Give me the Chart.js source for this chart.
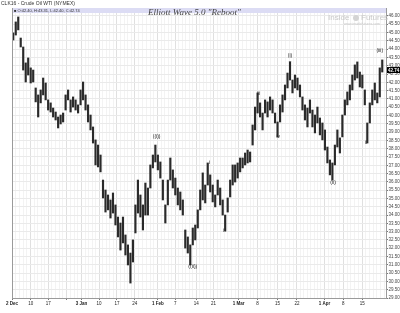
<!DOCTYPE html>
<html><head><meta charset="utf-8">
<script src="https://cdn.jsdelivr.net/npm/chart.js@4.4.0/dist/chart.umd.min.js"></script>
<style>html,body{margin:0;padding:0;background:#fff;}#wrap{width:400px;height:313px;position:relative;}</style>
</head><body><div id="wrap"><canvas id="c" width="400" height="313"></canvas></div>
<script>
// Price bars (one bar per slot)
const barHighs = [44.98,45.64,45.94,44.67,44.13,43.17,43.47,42.87,42.74,41.66,
  41.24,41.54,42.26,41.96,40.94,40.76,40.45,40.21,39.91,40.03,
  40.15,41.24,41.54,40.94,41.12,40.94,40.64,41.54,42.02,41.24,
  40.64,40.03,39.31,38.53,38.22,37.62,36.11,35.51,35.21,34.91,
  35.33,34.61,33.88,33.52,33.88,32.80,32.20,31.71,32.50,34.61,
  36.11,35.21,34.61,35.93,35.63,37.02,37.62,38.22,37.62,37.20,
  36.11,34.61,36.11,37.44,36.72,36.23,35.63,35.39,34.91,33.10,
  32.68,32.20,33.22,33.40,34.31,35.51,36.54,35.81,37.14,36.42,
  35.81,35.21,36.11,35.63,34.91,34.00,35.03,36.11,37.02,37.02,
  37.14,37.44,37.44,37.74,37.92,37.80,39.43,40.51,41.36,40.76,
  40.15,40.94,40.82,41.12,40.94,40.15,39.61,40.64,41.24,41.84,
  42.56,43.23,42.14,42.44,42.26,41.84,41.12,40.64,40.45,40.94,
  40.33,40.03,40.51,39.85,39.55,39.13,38.10,37.32,37.14,38.22,
  39.13,38.65,40.03,40.94,41.42,41.84,42.44,43.05,43.23,42.62,
  42.44,41.54,39.55,40.76,41.54,41.96,41.36,42.87,43.35];
const barLows = [44.55,44.85,45.16,44.13,42.74,42.02,42.44,41.96,42.02,40.82,
  39.91,40.76,41.24,40.94,40.33,40.21,39.91,39.73,39.25,39.49,
  39.61,40.33,40.94,40.21,40.51,40.33,40.15,40.64,40.94,40.33,
  39.61,39.13,38.34,37.02,36.90,36.60,35.03,34.18,34.31,33.82,
  34.12,33.40,32.68,31.89,32.32,31.59,30.99,29.90,31.17,32.92,
  34.12,33.88,33.10,34.00,34.00,35.63,36.84,37.20,36.72,36.23,
  34.91,33.52,34.61,36.11,35.63,35.21,34.61,34.31,34.00,32.01,
  31.71,30.99,32.20,32.50,33.22,34.31,34.91,34.73,35.81,35.39,
  34.79,34.49,35.21,34.61,34.00,33.04,34.18,35.09,35.81,35.99,
  36.23,36.60,36.84,37.02,37.14,37.20,38.22,39.13,40.15,39.91,
  39.13,40.15,39.91,40.33,40.15,39.55,38.71,39.61,40.21,40.94,
  41.66,42.14,41.36,41.66,41.54,41.12,40.33,39.73,39.31,40.15,
  39.31,38.95,39.55,38.83,38.53,37.92,37.14,36.42,36.11,37.02,
  38.10,37.74,38.71,40.03,40.64,40.94,41.54,42.14,42.26,41.72,
  41.66,40.64,38.34,39.55,40.64,40.94,40.76,41.12,42.62];
const lastClose = 42.74;

// Date tick labels and the bar slot they sit at
const dateTickSlots = [-0.5, 7, 14, 21.4, 27.4, 34.4, 41.6, 48.7, 58, 65, 73.4, 80.3, 90.4, 98, 106, 113.8, 124.8, 132.4, 140];
const dateTickLabels = ["2 Dec","10","17","","3 Jan","10","17","24","1 Feb","7","14","21","1 Mar","8","15","22","1 Apr","8","15"];
const monthLabels = ["2 Dec","3 Jan","1 Feb","1 Mar","1 Apr"];

// Price tick labels
const priceTicks = [29.00,29.50,30.00,30.50,31.00,31.50,32.00,32.50,33.00,33.50,34.00,34.50,35.00,35.50,36.00,36.50,37.00,37.50,38.00,38.50,39.00,39.50,40.00,40.50,41.00,41.50,42.00,42.50,43.00,43.50,44.00,44.50,45.00,45.50,46.00];

// Elliott wave annotations: slot, price, text
const waveSlots = [57.5, 72, 78.7, 84.7, 98.3, 106.3, 111, 111, 128.3, 141.5, 147];
const wavePrices = [38.72, 30.87, 37.16, 33.04, 41.32, 38.70, 43.62, 43.20, 35.93, 38.34, 43.90];
const waveTexts = ["((i))", "((ii))", "i", "ii", "iii", "iv", "(i)", "v", "(ii)", "ii", "(iii)"];

// minor (daily) grid positions between weekly ticks
const minorSlots = [];
for (let k = 0; k < dateTickSlots.length - 1; k++) {
  const a = dateTickSlots[k], b = dateTickSlots[k+1];
  const n = Math.max(1, Math.round((b - a) / 1.45));
  for (let j = 1; j < n; j++) minorSlots.push(a + (b - a) * j / n);
}
{ const a = dateTickSlots[dateTickSlots.length-1]; for (let s = a + 1.45; s < 149.5; s += 1.45) minorSlots.push(s); }
const majorSet = new Set(dateTickSlots);
const allXTicks = dateTickSlots.concat(minorSlots).sort((a,b)=>a-b);

const bars = barHighs.map((h, i) => ({ x: i, y: [barLows[i], h] }));

const overlay = {
  id: 'overlay',
  beforeDatasetsDraw(chart) {
    const { ctx, chartArea: ca } = chart;
    ctx.save();
    ctx.fillStyle = '#dcdcf4';
    ctx.fillRect(ca.left, ca.top, ca.right - ca.left, 5);
    ctx.fillStyle = '#c8c8c8';
    ctx.font = '8px "Liberation Sans", Arial, sans-serif';
    ctx.textBaseline = 'middle';
    ctx.fillText('Inside', 328, 18);
    ctx.fillStyle = '#d4d4d4';
    ctx.beginPath(); ctx.arc(356, 18, 3, 0, Math.PI * 2); ctx.fill();
    ctx.fillStyle = '#c8c8c8';
    ctx.fillText('Futures', 361, 18);
    ctx.font = '3.5px "Liberation Sans", Arial, sans-serif';
    ctx.fillText('www.insidefutures.com', 344, 24);
    ctx.restore();
  },
  afterDraw(chart) {
    const { ctx, chartArea: ca, scales } = chart;
    ctx.save();
    ctx.strokeStyle = '#9a9a9a'; ctx.lineWidth = 1;
    ctx.beginPath(); ctx.moveTo(ca.left + 0.5, ca.top); ctx.lineTo(ca.left + 0.5, ca.bottom); ctx.stroke();
    ctx.fillStyle = '#333';
    ctx.font = '5px "Liberation Sans", Arial, sans-serif';
    ctx.textBaseline = 'middle';
    ctx.fillText('CLK16 - Crude Oil WTI (NYMEX)', 1, 3.5);
    ctx.font = '4px "Liberation Sans", Arial, sans-serif';
    ctx.fillText('\u25A0 O:42.40, H:43.31, L:42.40, C:42.74', ca.left + 2, ca.top + 2.6);
    ctx.font = 'italic 9px "Liberation Serif", "DejaVu Serif", serif';
    ctx.fillStyle = '#444';
    ctx.textAlign = 'left';
    ctx.fillText('Elliott Wave 5.0 "Reboot"', 148, 13);
    ctx.font = '5px "Liberation Sans", Arial, sans-serif';
    ctx.fillStyle = '#222';
    ctx.textAlign = 'center';
    for (let i = 0; i < waveTexts.length; i++) {
      ctx.fillText(waveTexts[i], scales.x.getPixelForValue(waveSlots[i]), scales.y.getPixelForValue(wavePrices[i]));
    }
    const yy = scales.y.getPixelForValue(lastClose);
    ctx.fillStyle = '#000';
    ctx.fillRect(ca.right + 1, yy - 3, 13, 6);
    ctx.fillStyle = '#fff';
    ctx.font = 'bold 4.5px "Liberation Sans", Arial, sans-serif';
    ctx.textAlign = 'left';
    ctx.fillText(lastClose.toFixed(2), ca.right + 2, yy + 0.3);
    ctx.restore();
  }
};

new Chart(document.getElementById('c'), {
  type: 'bar',
  data: { datasets: [{ data: bars, backgroundColor: '#2a2a2a', borderWidth: 0, barThickness: 1.5 }] },
  options: {
    responsive: false, animation: false,
    layout: { padding: { left: 12, top: 8, right: 0, bottom: 0 } },
    plugins: { legend: { display: false }, tooltip: { enabled: false } },
    scales: {
      x: {
        type: 'linear', min: -0.5, max: 149.5, offset: false,
        afterBuildTicks: s => { s.ticks = allXTicks.map(v => ({ value: v })); },
        afterFit: s => { s.height = 15; },
        grid: { offset: false, color: c => (c.tick && majorSet.has(c.tick.value)) ? '#e0e0e0' : '#f3f3f3', tickLength: 2,
                tickColor: c => (c.tick && majorSet.has(c.tick.value)) ? '#777' : 'rgba(0,0,0,0)' },
        border: { color: '#9a9a9a' },
        ticks: {
          autoSkip: false, maxRotation: 0, minRotation: 0, padding: 1, color: '#222',
          font: c => ({ size: 4.5, family: '"Liberation Sans", Arial, sans-serif', weight: (c.tick && monthLabels.includes(dateTickLabels[dateTickSlots.indexOf(c.tick.value)])) ? 'bold' : 'normal' }),
          callback: v => { const k = dateTickSlots.indexOf(v); return k >= 0 ? dateTickLabels[k] : ''; }
        }
      },
      y: {
        position: 'right', min: 29, max: 46.48,
        afterBuildTicks: s => { s.ticks = priceTicks.map(v => ({ value: v })); },
        afterFit: s => { s.width = 14; },
        grid: { color: '#eaeaea', tickLength: 2, tickColor: '#777' },
        border: { color: '#9a9a9a' },
        ticks: { padding: 0.5, color: '#444', font: { size: 4.5, family: '"Liberation Sans", Arial, sans-serif' },
                 callback: v => v.toFixed(2) }
      }
    }
  },
  plugins: [overlay]
});
</script></body></html>
